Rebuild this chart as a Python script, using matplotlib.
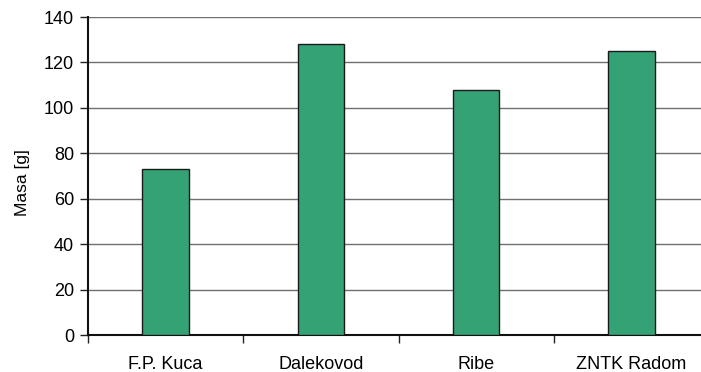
import matplotlib
matplotlib.use("Agg")
import matplotlib.pyplot as plt

# values
categories = ["F.P. Kuca", "Dalekovod", "Ribe", "ZNTK Radom"]
masses = [73, 128, 108, 125]
y_ticks = [0, 20, 40, 60, 80, 100, 120, 140]

plt.rcParams["font.family"] = ["Liberation Sans", "DejaVu Sans"]

W, H = 701, 372
fig = plt.figure(figsize=(W / 100, H / 100), dpi=100)
# axes runs a little past the right edge, like the original crop
ax = fig.add_axes([88 / W, 37 / H, (709 - 88) / W, (335 - 17) / H])

x = list(range(len(categories)))
ax.bar(x, masses, width=0.30, color="#35a275", edgecolor="#1a1a1a", linewidth=1.0, zorder=3)

ax.set_xlim(-0.5, len(categories) - 0.5)
ax.set_ylim(0, 140)
ax.set_yticks(y_ticks)
ax.yaxis.grid(True, color="#707070", linewidth=1.0, zorder=0)
ax.set_axisbelow(True)

# category ticks sit on the boundaries, labels in the middle
ax.set_xticks([i - 0.5 for i in range(len(categories) + 1)])
ax.set_xticklabels([])
ax.set_xticks(x, minor=True)
ax.set_xticklabels(categories, minor=True, fontsize=13)
ax.tick_params(axis="x", which="minor", length=0, pad=15)
ax.tick_params(axis="x", which="major", length=6, width=1.0, color="#222222")
ax.tick_params(axis="y", length=6, width=1.0, labelsize=13, pad=4, color="#222222")

for side in ("top", "right"):
    ax.spines[side].set_visible(False)
ax.spines["left"].set_linewidth(1.5)
ax.spines["bottom"].set_linewidth(1.5)
ax.spines["left"].set_color("#111111")
ax.spines["bottom"].set_color("#111111")

ax.set_ylabel("Masa [g]", fontsize=12.5)
ax.yaxis.set_label_coords(-0.094, 0.478)

fig.savefig("out.png", dpi=100)
plt.close(fig)
